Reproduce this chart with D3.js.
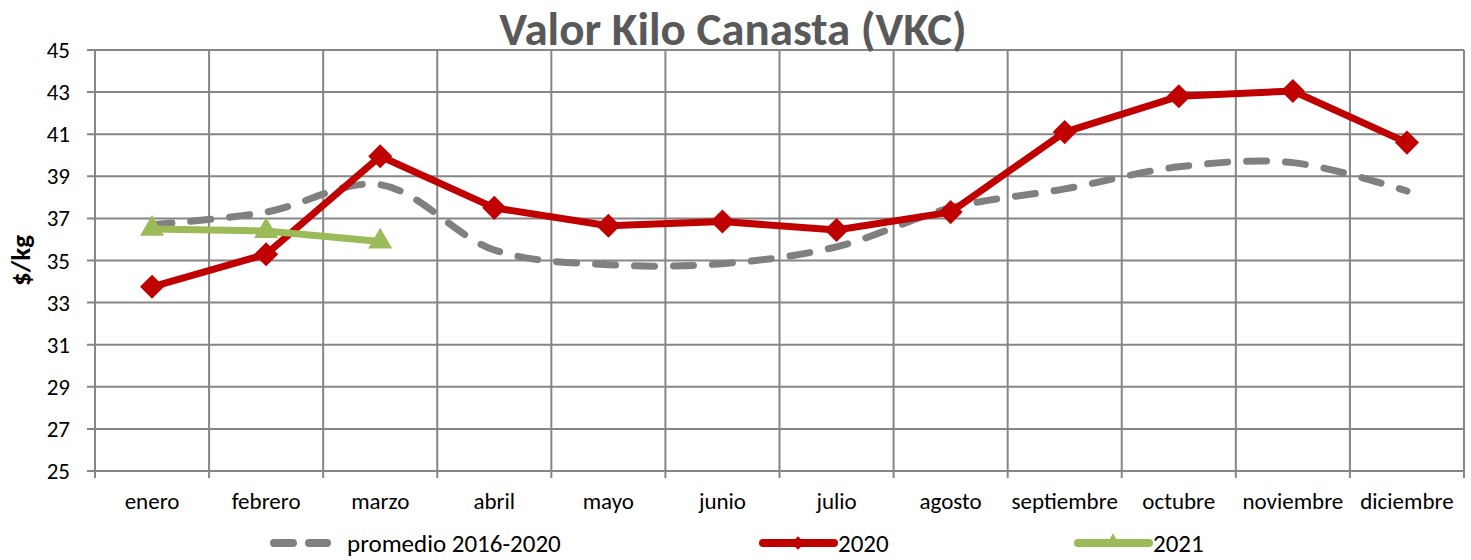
<!DOCTYPE html>
<html>
<head>
<meta charset="utf-8">
<script src="https://cdn.jsdelivr.net/npm/d3@7"></script>
<style>
  body { margin: 0; background: #fff; }
  svg { display: block; font-family: Carlito, Lato, "Open Sans", sans-serif; }
</style>
</head>
<body>
<svg id="chart" width="1471" height="560"></svg>
<script>
// data
var months = ["enero", "febrero", "marzo", "abril", "mayo", "junio", "julio",
              "agosto", "septiembre", "octubre", "noviembre", "diciembre"];
var promedio = [36.7, 37.3, 38.6, 35.5, 34.8, 34.85, 35.65, 37.5, 38.4, 39.45, 39.65, 38.3];
var v2020 = [33.75, 35.3, 39.95, 37.5, 36.65, 36.85, 36.45, 37.3, 41.1, 42.8, 43.05, 40.6];
var v2021 = [36.5, 36.4, 35.9];
var yTicks = [25, 27, 29, 31, 33, 35, 37, 39, 41, 43, 45];

var svg = d3.select("#chart"),
    pLeft = 95, pRight = 1464, pTop = 50, pBottom = 471;

var x = d3.scaleBand().domain(months).range([pLeft, pRight]);
var y = d3.scaleLinear().domain([25, 45]).range([pBottom, pTop]);
var cx = function(d, i) { return x(months[i]) + x.bandwidth() / 2; };

// gridlines
var grid = svg.append("g").attr("stroke", "#868686").attr("stroke-width", 2);
yTicks.forEach(function(t) {
  grid.append("line").attr("x1", pLeft - 8).attr("x2", pRight)
    .attr("y1", y(t)).attr("y2", y(t));
});
months.forEach(function(m) {
  grid.append("line").attr("x1", x(m)).attr("x2", x(m))
    .attr("y1", pTop).attr("y2", pBottom + 7);
});
grid.append("line").attr("x1", pRight).attr("x2", pRight)
  .attr("y1", pTop).attr("y2", pBottom + 7);

// y labels
svg.append("g").selectAll("text").data(yTicks).enter().append("text")
  .attr("x", 70).attr("y", function(d) { return y(d) + 8; })
  .attr("text-anchor", "end").attr("font-size", 23).attr("fill", "#000")
  .text(function(d) { return d; });

svg.append("text")
  .attr("transform", "translate(30," + ((pTop + pBottom) / 2) + ") rotate(-90)")
  .attr("text-anchor", "middle").attr("font-size", 27).attr("font-weight", "bold")
  .text("$/kg");

// x labels
svg.append("g").selectAll("text").data(months).enter().append("text")
  .attr("x", function(d) { return x(d) + x.bandwidth() / 2; })
  .attr("y", 509).attr("text-anchor", "middle").attr("font-size", 23)
  .text(function(d) { return d; });

// title
svg.append("text").attr("x", 733).attr("y", 45).attr("text-anchor", "middle")
  .attr("font-size", 47).attr("font-weight", "bold").attr("fill", "#595959")
  .text("Valor Kilo Canasta (VKC)");

// series
var lineSmooth = d3.line().x(cx).y(function(d) { return y(d); })
  .curve(d3.curveCatmullRom.alpha(0.5));
var lineStraight = d3.line().x(cx).y(function(d) { return y(d); });

svg.append("path").datum(promedio).attr("d", lineSmooth)
  .attr("fill", "none").attr("stroke", "#808080").attr("stroke-width", 7)
  .attr("stroke-linecap", "round").attr("stroke-dasharray", "20,19");

svg.append("path").datum(v2020).attr("d", lineStraight)
  .attr("fill", "none").attr("stroke", "#C00000").attr("stroke-width", 7)
  .attr("stroke-linejoin", "round");
var diamond = d3.symbol().type(d3.symbolSquare).size(290);
svg.append("g").selectAll("path").data(v2020).enter().append("path")
  .attr("d", diamond)
  .attr("transform", function(d, i) { return "translate(" + cx(d, i) + "," + y(d) + ") rotate(45)"; })
  .attr("fill", "#C00000");

svg.append("path").datum(v2021).attr("d", lineStraight)
  .attr("fill", "none").attr("stroke", "#9BBB59").attr("stroke-width", 7)
  .attr("stroke-linejoin", "round");
var tri = d3.symbol().type(d3.symbolTriangle).size(250);
svg.append("g").selectAll("path").data(v2021).enter().append("path")
  .attr("d", tri)
  .attr("transform", function(d, i) { return "translate(" + cx(d, i) + "," + y(d) + ")"; })
  .attr("fill", "#9BBB59");

// legend
var ly = 543;
var lg = svg.append("g");
lg.append("line").attr("x1", 274).attr("x2", 327).attr("y1", ly).attr("y2", ly)
  .attr("stroke", "#808080").attr("stroke-width", 8).attr("stroke-linecap", "round")
  .attr("stroke-dasharray", "19,16");
lg.append("text").attr("x", 347).attr("y", ly + 9).attr("font-size", 25)
  .text("promedio 2016-2020");

lg.append("line").attr("x1", 763).attr("x2", 834).attr("y1", ly).attr("y2", ly)
  .attr("stroke", "#C00000").attr("stroke-width", 8).attr("stroke-linecap", "round");
lg.append("path").attr("d", d3.symbol().type(d3.symbolSquare).size(90))
  .attr("transform", "translate(798," + ly + ") rotate(45)").attr("fill", "#C00000");
lg.append("text").attr("x", 838).attr("y", ly + 9).attr("font-size", 25).text("2020");

lg.append("line").attr("x1", 1078).attr("x2", 1149).attr("y1", ly).attr("y2", ly)
  .attr("stroke", "#9BBB59").attr("stroke-width", 8).attr("stroke-linecap", "round");
lg.append("path").attr("d", d3.symbol().type(d3.symbolTriangle).size(100))
  .attr("transform", "translate(1113," + (ly - 1) + ")").attr("fill", "#9BBB59");
lg.append("text").attr("x", 1153).attr("y", ly + 9).attr("font-size", 25).text("2021");
</script>
</body>
</html>
